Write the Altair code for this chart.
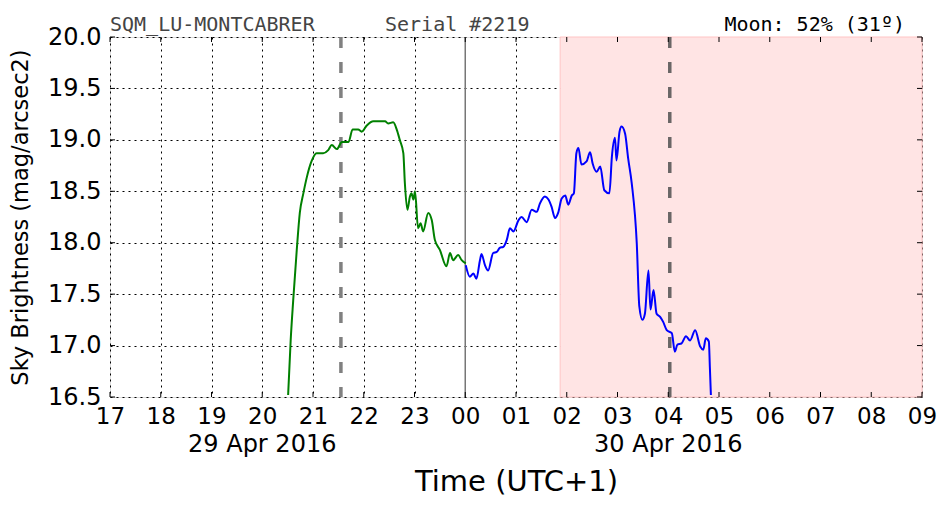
import altair as alt
import pandas as pd

# ---- data (hours of day, continuing past 24 for the next day) ----
green_h = [20.51, 20.56, 20.61, 20.68, 20.74, 20.81, 20.88, 20.97, 21.07, 21.20, 21.30, 21.37,
           21.47, 21.57, 21.70, 21.78, 21.89, 21.96, 22.06, 22.19, 22.42, 22.48, 22.58, 22.65,
           22.71, 22.78, 22.81, 22.86, 22.91, 22.94, 22.98, 23.01, 23.07, 23.12, 23.17, 23.27,
           23.34, 23.40, 23.50, 23.63, 23.70, 23.76, 23.86, 23.93, 24.01]
green_v = [16.52, 17.05, 17.44, 17.93, 18.29, 18.48, 18.64, 18.79, 18.87, 18.87, 18.90, 18.95,
           18.91, 18.98, 18.98, 19.10, 19.10, 19.08, 19.14, 19.18, 19.18, 19.16, 19.17, 19.10,
           19.00, 18.87, 18.58, 18.32, 18.45, 18.48, 18.42, 18.50, 18.14, 18.19, 18.11, 18.29,
           18.22, 18.03, 17.93, 17.77, 17.90, 17.83, 17.88, 17.83, 17.80]

blue_h = [24.01, 24.09, 24.16, 24.22, 24.29, 24.32, 24.39, 24.45, 24.55, 24.62, 24.68, 24.75,
          24.82, 24.88, 24.95, 25.05, 25.11, 25.21, 25.31, 25.41, 25.47, 25.57, 25.64, 25.70,
          25.77, 25.83, 25.90, 25.97, 26.03, 26.10, 26.14, 26.19, 26.23, 26.29, 26.39, 26.46,
          26.51, 26.59, 26.66, 26.74, 26.84, 26.89, 26.95, 26.98, 27.04, 27.08, 27.15, 27.21,
          27.28, 27.38, 27.43, 27.49, 27.54, 27.61, 27.65, 27.71, 27.77, 27.84, 27.90, 27.97,
          28.07, 28.13, 28.18, 28.26, 28.35, 28.43, 28.53, 28.63, 28.69, 28.74, 28.80, 28.82,
          28.84]
blue_v = [17.78, 17.67, 17.70, 17.65, 17.83, 17.89, 17.78, 17.73, 17.90, 17.91, 17.95, 17.96,
          18.03, 18.14, 18.11, 18.22, 18.25, 18.20, 18.32, 18.30, 18.38, 18.45, 18.42, 18.35,
          18.24, 18.29, 18.43, 18.46, 18.37, 18.46, 18.48, 18.87, 18.92, 18.76, 18.79, 18.88,
          18.77, 18.69, 18.74, 18.51, 18.48, 18.84, 19.02, 18.80, 19.08, 19.13, 19.06, 18.82,
          18.58, 17.99, 17.38, 17.25, 17.31, 17.73, 17.35, 17.54, 17.31, 17.28, 17.23, 17.15,
          17.12, 16.94, 17.01, 17.02, 17.09, 17.05, 17.15, 16.99, 16.96, 17.07, 17.04, 16.79,
          16.52]

hour_ticks = list(range(17, 34))
y_ticks = [16.5, 17.0, 17.5, 18.0, 18.5, 19.0, 19.5, 20.0]
dates = ["29 Apr 2016", "30 Apr 2016"]
date_pos = [20, 28]
shade = [25.87, 33.0]
dash_events = [21.55, 28.03]
dash_colors = ["#808080", "#6a6666"]
midnight = [24.0]

green_df = pd.DataFrame({"h": green_h, "v": green_v})
blue_df = pd.DataFrame({"h": blue_h, "v": blue_v})

W, H = 812, 360
xs = alt.Scale(domain=[17, 33], nice=False, zero=False)
ys = alt.Scale(domain=[16.5, 20.0], nice=False, zero=False)

FONT = "DejaVu Sans"

xaxis = alt.Axis(values=hour_ticks,
                 labelExpr="(datum.value % 24 < 10 ? '0' : '') + (datum.value % 24)",
                 grid=True, gridColor="black", gridDash=[2, 4], gridWidth=1, gridOpacity=1,
                 tickSize=0, domain=False, labelFontSize=23, labelFont=FONT, labelColor="black",
                 labelPadding=8, labelFlush=False, labelOverlap=False,
                 title="Time (UTC+1)", titleFont=FONT, titleFontSize=29, titleFontWeight="normal",
                 titleColor="black", titlePadding=39)
yaxis = alt.Axis(values=y_ticks, format=".1f",
                 grid=True, gridColor="black", gridDash=[2, 4], gridWidth=1, gridOpacity=1,
                 tickSize=0, domain=False, labelFontSize=24, labelFont=FONT, labelColor="black",
                 labelPadding=9, labelFlush=False, labelOverlap=False,
                 title="Sky Brightness (mag/arcsec2)", titleFont=FONT, titleFontSize=22.5,
                 titleFontWeight="normal", titleColor="black", titlePadding=15)

base_axes = alt.Chart(pd.DataFrame({"h": [17], "v": [16.5]})).mark_point(opacity=0).encode(
    x=alt.X("h:Q", scale=xs, axis=xaxis),
    y=alt.Y("v:Q", scale=ys, axis=yaxis),
)

shade_layer = alt.Chart(pd.DataFrame({"a": [shade[0]], "b": [shade[1]]})).mark_rect(
    color="#ffe4e4", stroke="#ffc4c4", strokeWidth=1).encode(
    x=alt.X("a:Q", scale=xs), x2="b:Q",
    y=alt.value(0), y2=alt.value(H))

mid_layer = alt.Chart(pd.DataFrame({"h": midnight})).mark_rule(
    color="#777777", strokeWidth=1.5).encode(x=alt.X("h:Q", scale=xs))

dash_layer = alt.Chart(pd.DataFrame({"h": dash_events, "c": dash_colors})).mark_rule(
    strokeWidth=3.5, strokeDash=[11, 14]).encode(
    x=alt.X("h:Q", scale=xs), color=alt.Color("c:N", scale=None))

green_layer = alt.Chart(green_df).mark_line(color="#008000", strokeWidth=2, clip=True,
                                            interpolate="monotone").encode(
    x=alt.X("h:Q", scale=xs), y=alt.Y("v:Q", scale=ys), order="h:Q")
blue_layer = alt.Chart(blue_df).mark_line(color="#0000ff", strokeWidth=2, clip=True,
                                          interpolate="monotone").encode(
    x=alt.X("h:Q", scale=xs), y=alt.Y("v:Q", scale=ys), order="h:Q")

# inward tick marks on all sides
tk = 5
left_ticks = alt.Chart(pd.DataFrame({"v": y_ticks})).mark_rule(color="black", strokeWidth=1).encode(
    y=alt.Y("v:Q", scale=ys), x=alt.value(0), x2=alt.value(tk))
right_ticks = alt.Chart(pd.DataFrame({"v": y_ticks})).mark_rule(color="black", strokeWidth=1).encode(
    y=alt.Y("v:Q", scale=ys), x=alt.value(W - tk), x2=alt.value(W))
bottom_ticks = alt.Chart(pd.DataFrame({"h": hour_ticks})).mark_rule(color="black", strokeWidth=1).encode(
    x=alt.X("h:Q", scale=xs), y=alt.value(H - tk), y2=alt.value(H))
top_ticks = alt.Chart(pd.DataFrame({"h": hour_ticks})).mark_rule(color="black", strokeWidth=1).encode(
    x=alt.X("h:Q", scale=xs), y=alt.value(0), y2=alt.value(tk))

date_layer = alt.Chart(pd.DataFrame({"h": date_pos, "t": dates})).mark_text(
    font=FONT, fontSize=24, color="black", baseline="middle", align="center").encode(
    x=alt.X("h:Q", scale=xs), y=alt.value(408), text="t:N")

header = pd.DataFrame({"t": ["SQM_LU-MONTCABRER", "Serial #2219"], "px": [0, 275]})
header_left = alt.Chart(header).mark_text(
    font="DejaVu Sans Mono", fontSize=20, color="#444444", baseline="middle", align="left").encode(
    x=alt.X("px:Q", scale=None), y=alt.value(-12), text="t:N")
header_right = alt.Chart(pd.DataFrame({"t": ["Moon: 52% (31º)"]})).mark_text(
    font="DejaVu Sans Mono", fontSize=20, color="black", baseline="middle", align="right").encode(
    x=alt.value(795), y=alt.value(-12), text="t:N")

chart = alt.layer(
    shade_layer, base_axes, mid_layer, dash_layer, green_layer, blue_layer,
    left_ticks, right_ticks, bottom_ticks, top_ticks, date_layer, header_left, header_right
).properties(
    width=W, height=H,
    autosize=alt.AutoSizeParams(type="none"),
    padding={"left": 110, "top": 37, "right": 30, "bottom": 115},
).configure_view(stroke="black", strokeWidth=2).configure(background="white")

chart.save("out.html", embed_options={"renderer": "svg", "actions": False})
